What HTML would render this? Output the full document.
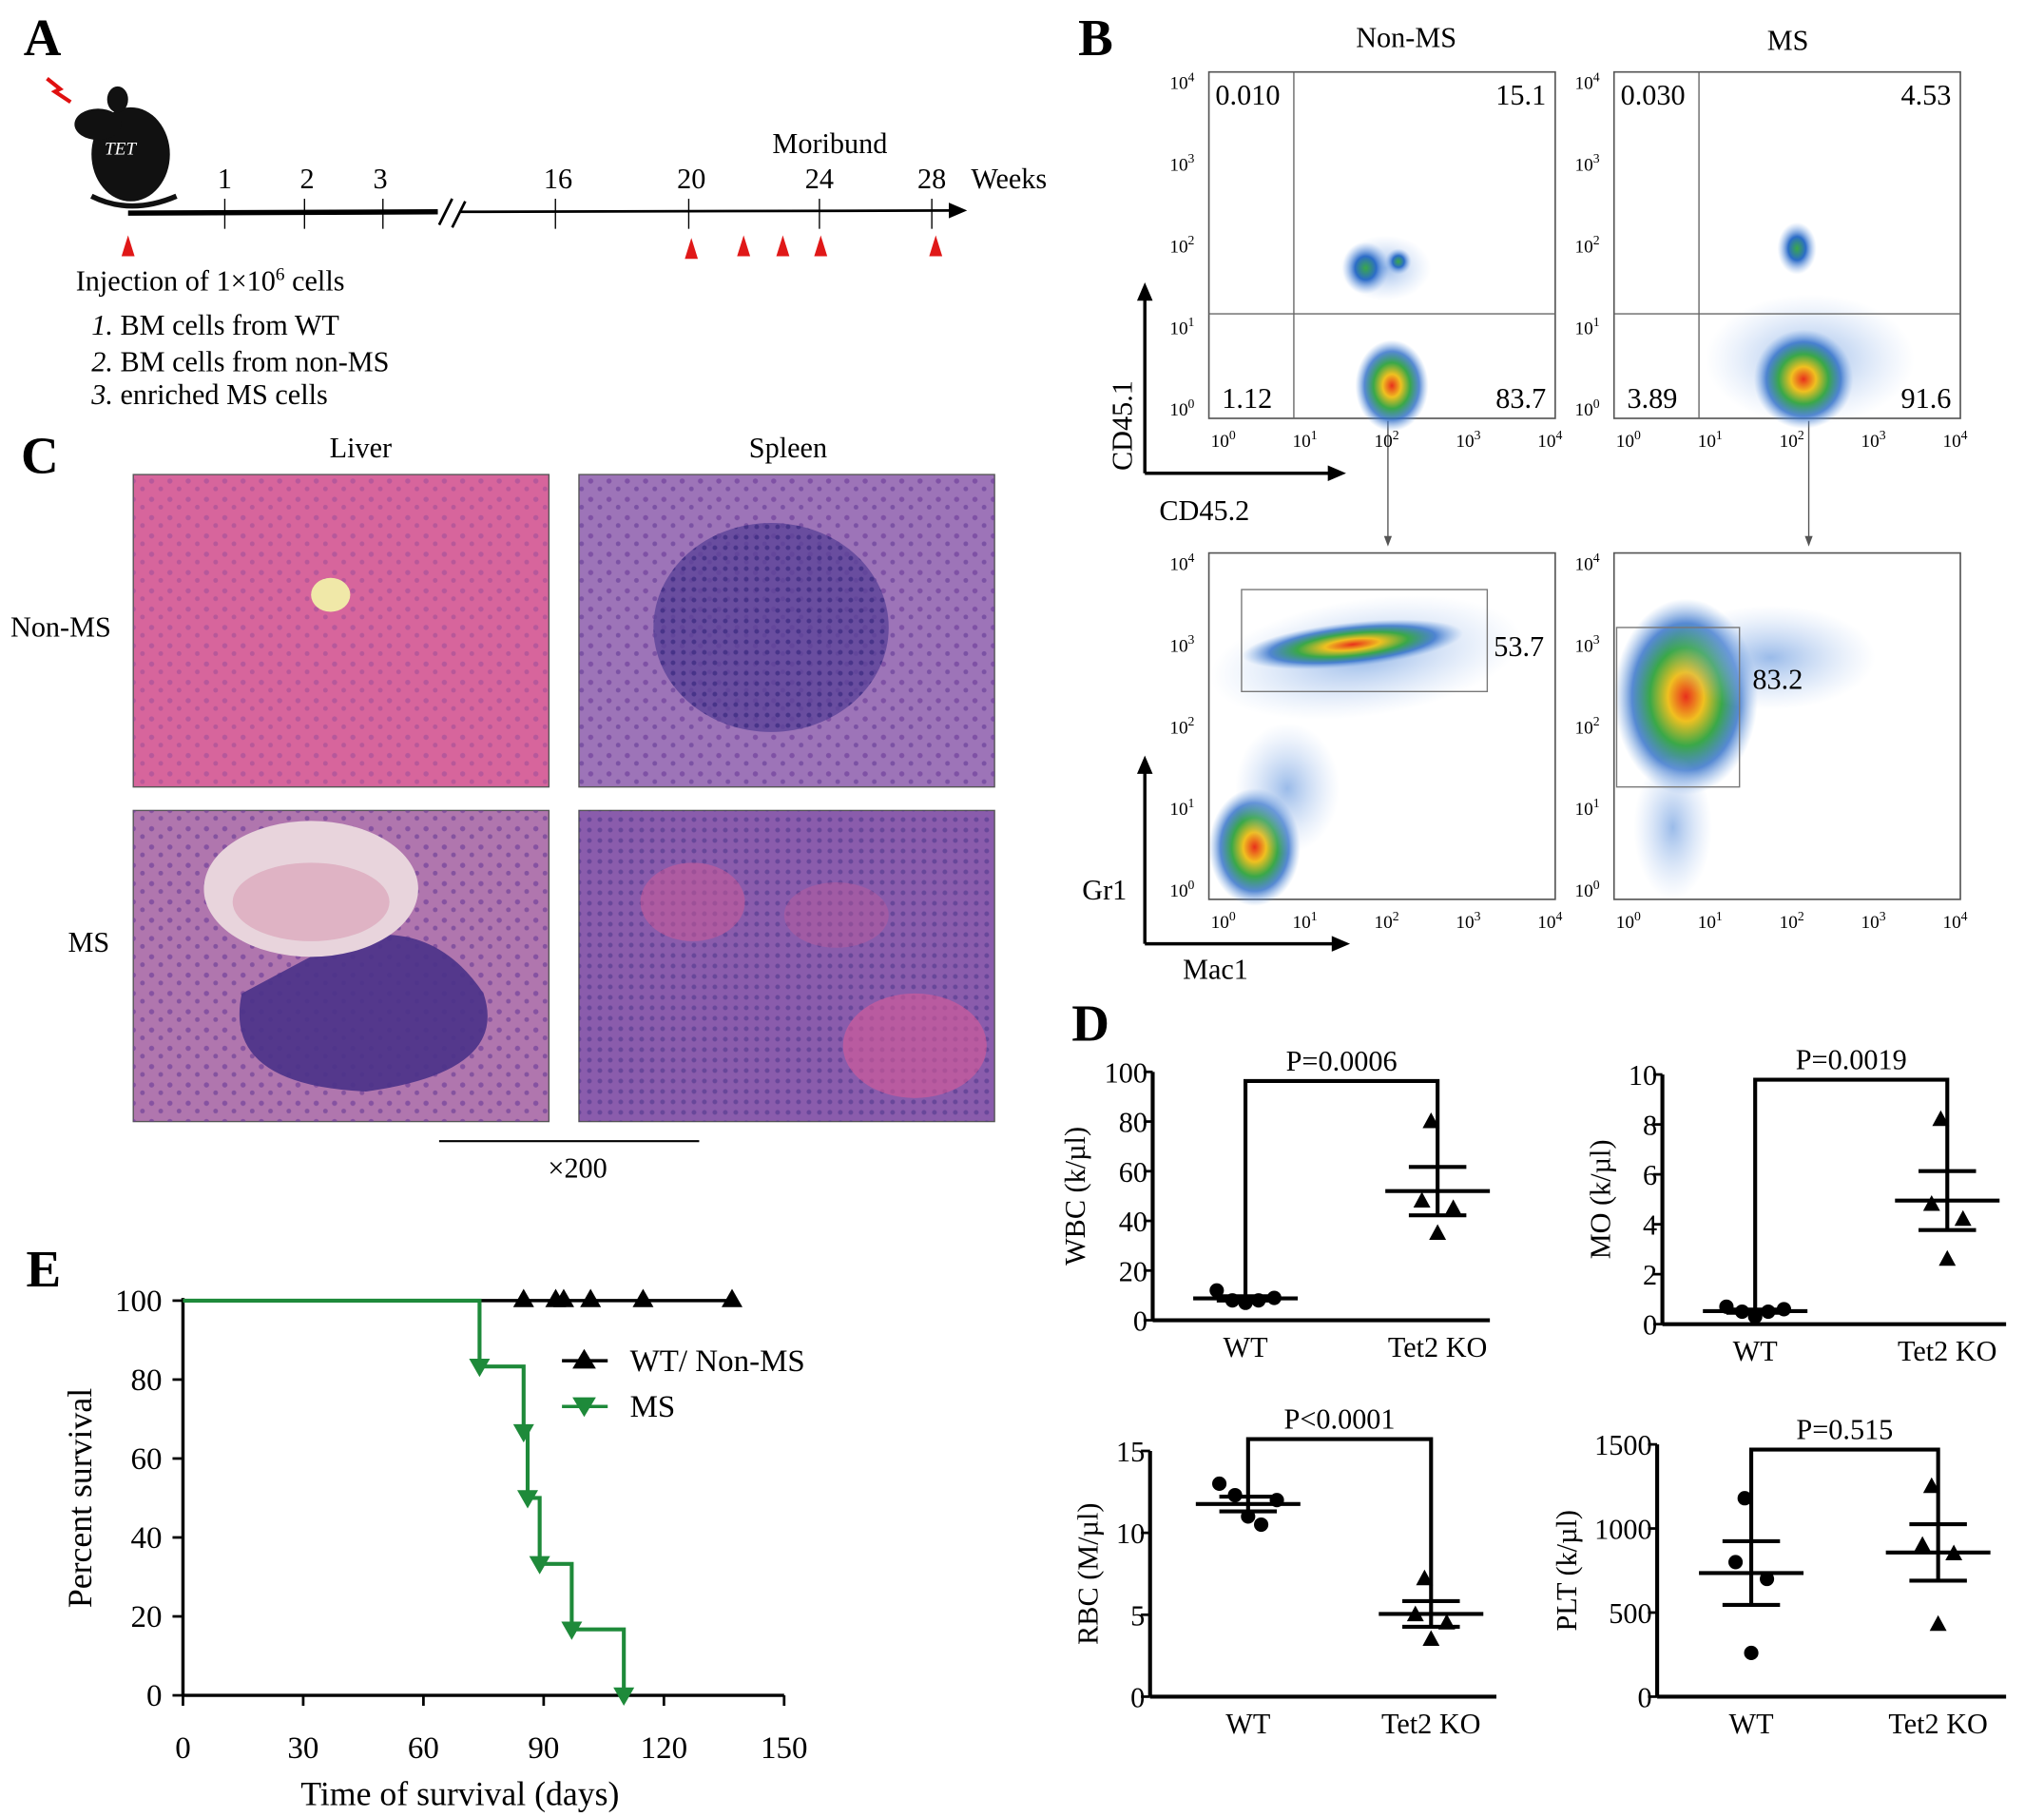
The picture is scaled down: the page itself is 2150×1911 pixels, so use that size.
<!DOCTYPE html>
<html><head><meta charset="utf-8">
<style>
html,body{margin:0;padding:0;background:#fff;}
svg{display:block;font-family:"Liberation Serif",serif;}
</style></head>
<body>
<svg id="fig" width="2150" height="1911" viewBox="0 0 1564 1390" xmlns="http://www.w3.org/2000/svg">
<defs>
<radialGradient id="heat" cx="50%" cy="50%" r="50%">
<stop offset="0" stop-color="#e8301c"/><stop offset="0.25" stop-color="#f0c020"/><stop offset="0.5" stop-color="#3aa848"/><stop offset="0.75" stop-color="#2c6cc8" stop-opacity="0.8"/><stop offset="1" stop-color="#6fa0e0" stop-opacity="0"/>
</radialGradient>
<radialGradient id="cool" cx="50%" cy="50%" r="50%">
<stop offset="0" stop-color="#3aa848"/><stop offset="0.45" stop-color="#2c6cc8"/><stop offset="1" stop-color="#8fb4ea" stop-opacity="0"/>
</radialGradient>
<radialGradient id="sparse" cx="50%" cy="50%" r="50%">
<stop offset="0" stop-color="#6f9ee0" stop-opacity="0.7"/><stop offset="1" stop-color="#a8c4f0" stop-opacity="0"/>
</radialGradient>
<pattern id="cells" width="14" height="14" patternUnits="userSpaceOnUse"><circle cx="4" cy="4" r="2" fill="#6a3a98" opacity="0.6"/><circle cx="11" cy="10" r="1.8" fill="#5a2f90" opacity="0.5"/></pattern>
<pattern id="cellsd" width="8" height="8" patternUnits="userSpaceOnUse"><circle cx="3" cy="3" r="1.8" fill="#3a2a80" opacity="0.7"/></pattern>
</defs>

<g>
<text x="18" y="42" font-size="40" font-weight="bold">A</text>
<g>
<ellipse cx="100" cy="118" rx="30" ry="36" fill="#111"/>
<ellipse cx="75" cy="95" rx="18" ry="12" fill="#111"/>
<ellipse cx="90" cy="76" rx="8" ry="10" fill="#111"/>
<path d="M70 150 Q100 165 135 150" stroke="#111" stroke-width="4" fill="none"/>
<text x="80" y="118" font-size="14" fill="#fff" font-style="italic">TET</text>
<path d="M36 60 L46 68 L42 70 L54 78" stroke="#e01010" stroke-width="3" fill="none"/>
</g>
<line x1="98" y1="163" x2="335" y2="162" stroke="#000" stroke-width="4"/>
<line x1="336" y1="172" x2="346" y2="152" stroke="#000" stroke-width="2"/>
<line x1="346" y1="174" x2="356" y2="154" stroke="#000" stroke-width="2"/>
<line x1="352" y1="162" x2="730" y2="161" stroke="#000" stroke-width="2"/>
<path d="M740 161 L726 155 L726 167 Z" fill="#000"/>
<g font-size="22" text-anchor="middle">
<line x1="172" y1="152" x2="172" y2="175" stroke="#000"/><text x="172" y="144">1</text>
<line x1="233" y1="152" x2="233" y2="175" stroke="#000"/><text x="235" y="144">2</text>
<line x1="293" y1="152" x2="293" y2="175" stroke="#000"/><text x="291" y="144">3</text>
<line x1="425" y1="152" x2="425" y2="175" stroke="#000"/><text x="427" y="144">16</text>
<line x1="527" y1="152" x2="527" y2="175" stroke="#000"/><text x="529" y="144">20</text>
<line x1="627" y1="152" x2="627" y2="175" stroke="#000"/><text x="627" y="144">24</text>
<line x1="713" y1="152" x2="713" y2="175" stroke="#000"/><text x="713" y="144">28</text>
<text x="772" y="144">Weeks</text>
<text x="635" y="117">Moribund</text>
</g>
<g fill="#e01818">
<path d="M98 180 L93 196 L103 196Z"/><path d="M529 182 L524 198 L534 198Z"/><path d="M569 180 L564 196 L574 196Z"/><path d="M599 180 L594 196 L604 196Z"/><path d="M628 180 L623 196 L633 196Z"/><path d="M716 180 L711 196 L721 196Z"/>
</g>
<text x="58" y="222" font-size="22">Injection of 1×10<tspan font-size="14" dy="-8">6</tspan><tspan dy="8"> cells</tspan></text>
<text x="70" y="256" font-size="22"><tspan font-style="italic">1.</tspan> BM cells from WT</text>
<text x="70" y="284" font-size="22"><tspan font-style="italic">2.</tspan> BM cells from non-MS</text>
<text x="70" y="309" font-size="22"><tspan font-style="italic">3.</tspan> enriched MS cells</text>
</g>

<g>
<text x="16" y="362" font-size="40" font-weight="bold">C</text>
<text x="276" y="350" font-size="22" text-anchor="middle">Liver</text>
<text x="603" y="350" font-size="22" text-anchor="middle">Spleen</text>
<text x="8" y="487" font-size="22">Non-MS</text>
<text x="52" y="728" font-size="22">MS</text>
<g>
<rect x="102" y="363" width="318" height="239" fill="#d7659c" stroke="#555"/>
<rect x="102" y="363" width="318" height="239" fill="url(#cells)" opacity="0.5"/>
<ellipse cx="253" cy="455" rx="15" ry="13" fill="#f0e8a8"/>
</g>
<g>
<rect x="443" y="363" width="318" height="239" fill="#9d74b8" stroke="#555"/>
<rect x="443" y="363" width="318" height="239" fill="url(#cells)"/>
<ellipse cx="590" cy="480" rx="90" ry="80" fill="#5d4498" opacity="0.8"/>
<ellipse cx="590" cy="480" rx="90" ry="80" fill="url(#cellsd)"/>
</g>
<g>
<rect x="102" y="620" width="318" height="238" fill="#b076ae" stroke="#555"/>
<rect x="102" y="620" width="318" height="238" fill="url(#cells)"/>
<path d="M185 760 Q170 830 280 835 Q390 820 370 760 Q330 700 260 720 Z" fill="#4a3288" opacity="0.9"/>
<ellipse cx="238" cy="680" rx="82" ry="52" fill="#e8d4dc"/>
<ellipse cx="238" cy="690" rx="60" ry="30" fill="#d89cb4" opacity="0.6"/>
</g>
<g>
<rect x="443" y="620" width="318" height="238" fill="#8a5cac" stroke="#555"/>
<rect x="443" y="620" width="318" height="238" fill="url(#cellsd)" opacity="0.6"/>
<ellipse cx="700" cy="800" rx="55" ry="40" fill="#d85a98" opacity="0.6"/>
<ellipse cx="530" cy="690" rx="40" ry="30" fill="#d25a96" opacity="0.5"/>
<ellipse cx="640" cy="700" rx="40" ry="25" fill="#c45a98" opacity="0.4"/>
</g>
<line x1="336" y1="873" x2="535" y2="873" stroke="#000" stroke-width="1.5"/>
<text x="442" y="901" font-size="22" text-anchor="middle">×200</text>
</g>

<g id="panelB">
<text x="825" y="42" font-size="40" font-weight="bold">B</text>
<text x="1076" y="36" font-size="22" text-anchor="middle">Non-MS</text>
<text x="1368" y="38" font-size="22" text-anchor="middle">MS</text>
<line x1="876" y1="362" x2="876" y2="222" stroke="#000" stroke-width="2.5"/><path d="M876 216 L870 230 L882 230Z"/>
<line x1="876" y1="362" x2="1022" y2="362" stroke="#000" stroke-width="2.5"/><path d="M1030 362 L1016 356 L1016 368Z"/>
<text transform="translate(866,360) rotate(-90)" font-size="22">CD45.1</text>
<text x="887" y="398" font-size="22">CD45.2</text>
<line x1="876" y1="722" x2="876" y2="585" stroke="#000" stroke-width="2.5"/><path d="M876 578 L870 592 L882 592Z"/>
<line x1="876" y1="722" x2="1025" y2="722" stroke="#000" stroke-width="2.5"/><path d="M1033 722 L1019 716 L1019 728Z"/>
<text x="828" y="688" font-size="22">Gr1</text>
<text x="905" y="749" font-size="22">Mac1</text>
<line x1="1062" y1="322" x2="1062" y2="414" stroke="#555"/><path d="M1062 418 L1059 410 L1065 410Z" fill="#555"/>
<line x1="1384" y1="322" x2="1384" y2="414" stroke="#555"/><path d="M1384 418 L1381 410 L1387 410Z" fill="#555"/>
</g>

<g id="panelD">
<text x="820" y="796" font-size="40" font-weight="bold">D</text>
</g>

<g id="panelE">
<text x="20" y="984" font-size="40" font-weight="bold">E</text>
</g>

<script>
const flowQuadNonMS = ["0.010","15.1","1.12","83.7"];
const flowQuadMS = ["0.030","4.53","3.89","91.6"];
const flowGateNonMS = "53.7";
const flowGateMS = "83.2";
const NS = "http://www.w3.org/2000/svg";
function mk(parent, tag, attrs){const e=document.createElementNS(NS,tag);for(const k in attrs)e.setAttribute(k,attrs[k]);parent.appendChild(e);return e;}
function txt(parent,x,y,s,size,anchor){const t=mk(parent,'text',{x:x,y:y,'font-size':size,'text-anchor':anchor||'start'});t.textContent=s;return t;}
const B=document.getElementById('panelB');
function flowPlot(x0,y0,name,blobs){
  const g=mk(B,'g',{});
  
  
  mk(g,'rect',{x:x0,y:y0,width:265,height:265,fill:'#fff',stroke:'#555','stroke-width':1.2});
  blobs.forEach(b=>mk(g,'ellipse',{cx:x0+b[0],cy:y0+b[1],rx:b[2],ry:b[3],fill:'url(#'+b[4]+')',transform:b[5]?('rotate('+b[5]+' '+(x0+b[0])+' '+(y0+b[1])+')'):''}));
  for(let i=0;i<5;i++){
    const tx=x0+14+i*62.5, ty=y0+263-i*62.5;
    const a=txt(g,tx-3,y0+287,'10',14,'middle'); const s=mk(a,'tspan',{dy:-6,'font-size':10});s.textContent=i;
    const b=txt(g,x0-30,ty,'10',14,'start'); const s2=mk(b,'tspan',{dy:-6,'font-size':10});s2.textContent=i;
  }
  return g;
}
let g=flowPlot(925,55,'flow-cd45-non-ms',[[135,150,35,25,'sparse'],[140,240,28,35,'heat'],[120,150,18,20,'cool'],[145,145,10,10,'cool']]);
mk(g,'line',{x1:990,y1:55,x2:990,y2:320,stroke:'#666'});mk(g,'line',{x1:925,y1:240,x2:1190,y2:240,stroke:'#666'});
txt(g,930,80,flowQuadNonMS[0],22);txt(g,1183,80,flowQuadNonMS[1],22,'end');txt(g,935,312,flowQuadNonMS[2],22);txt(g,1183,312,flowQuadNonMS[3],22,'end');
g=flowPlot(1235,55,'flow-cd45-ms',[[150,220,80,50,'sparse'],[145,235,38,38,'heat'],[140,135,15,20,'cool']]);
mk(g,'line',{x1:1300,y1:55,x2:1300,y2:320,stroke:'#666'});mk(g,'line',{x1:1235,y1:240,x2:1500,y2:240,stroke:'#666'});
txt(g,1240,80,flowQuadMS[0],22);txt(g,1493,80,flowQuadMS[1],22,'end');txt(g,1245,312,flowQuadMS[2],22);txt(g,1493,312,flowQuadMS[3],22,'end');
g=flowPlot(925,423,'flow-gr1-mac1-non-ms',[[120,80,120,45,'sparse',-8],[110,70,85,17,'heat',-6],[35,225,35,45,'heat'],[60,180,40,50,'sparse']]);
mk(g,'rect',{x:950,y:451,width:188,height:78,fill:'none',stroke:'#777'});
txt(g,1143,502,flowGateNonMS,22);
g=flowPlot(1235,423,'flow-gr1-mac1-ms',[[55,110,55,75,'heat'],[45,210,30,55,'sparse'],[120,80,80,40,'sparse']]);
mk(g,'rect',{x:1237,y:480,width:94,height:122,fill:'none',stroke:'#777'});
txt(g,1341,527,flowGateMS,22);

const wbcWT=[12,8,7,8,9];
const wbcKO=[80,48,45,35];
const moWT=[0.7,0.5,0.3,0.5,0.6];
const moKO=[8.2,4.8,4.2,2.6];
const rbcWT=[13,12.3,11,10.5,12];
const rbcKO=[7.2,5,4.5,3.5];
const pltWT=[1180,800,700,260];
const pltKO=[1250,900,850,430];
const dCategories=["WT","Tet2 KO"];
const D=document.getElementById('panelD');
function mean(a){return a.reduce((s,v)=>s+v,0)/a.length;}
function sem(a){const m=mean(a);return Math.sqrt(a.reduce((s,v)=>s+(v-m)*(v-m),0)/(a.length-1))/Math.sqrt(a.length);}
function dotPlot(cfg){
  const gg=mk(D,'g',{});
  
  
  const ys=v=>cfg.y0-(v/cfg.max)*(cfg.y0-cfg.y1);
  mk(gg,'line',{x1:cfg.ax,y1:cfg.y1,x2:cfg.ax,y2:cfg.y0,stroke:'#000','stroke-width':3});
  mk(gg,'line',{x1:cfg.ax,y1:cfg.y0,x2:cfg.ax2,y2:cfg.y0,stroke:'#000','stroke-width':3});
  cfg.ticks.forEach(t=>{mk(gg,'line',{x1:cfg.ax-7,y1:ys(t),x2:cfg.ax,y2:ys(t),stroke:'#000','stroke-width':2});txt(gg,cfg.ax-4,ys(t)+8,String(t),22,'end');});
  const yl=mk(gg,'text',{transform:'translate('+(cfg.ax-cfg.ylo)+','+((cfg.y0+cfg.y1)/2)+') rotate(-90)','font-size':22,'text-anchor':'middle'});yl.textContent=cfg.label;
  const xs=[cfg.cx1,cfg.cx2];
  [cfg.wt,cfg.ko].forEach((arr,gi)=>{
    const cx=xs[gi];
    const offs=arr.length===5?[-22,-10,0,10,22]:[-5,-12,12,0];
    arr.forEach((v,i)=>{
      const px=cx+offs[i],py=ys(v);
      let m;
      if(gi===0) m=mk(gg,'circle',{cx:px,cy:py,r:5.5,fill:'#000'});
      else m=mk(gg,'path',{d:'M'+px+' '+(py-7)+' L'+(px-6.5)+' '+(py+5)+' L'+(px+6.5)+' '+(py+5)+'Z',fill:'#000'});
      
      
    });
    const m=mean(arr),se=sem(arr);
    mk(gg,'line',{x1:cx-40,y1:ys(m),x2:cx+40,y2:ys(m),stroke:'#000','stroke-width':3});
    mk(gg,'line',{x1:cx-22,y1:ys(m+se),x2:cx+22,y2:ys(m+se),stroke:'#000','stroke-width':3});
    mk(gg,'line',{x1:cx-22,y1:ys(m-se),x2:cx+22,y2:ys(m-se),stroke:'#000','stroke-width':3});
    mk(gg,'line',{x1:cx,y1:ys(m+se),x2:cx,y2:ys(m-se),stroke:'#000','stroke-width':3});
    txt(gg,cx,cfg.y0+28,dCategories[gi],22,'middle');
  });
  const top=cfg.by;
  mk(gg,'path',{d:'M'+xs[0]+' '+ys(mean(cfg.wt)+sem(cfg.wt))+' L'+xs[0]+' '+top+' L'+xs[1]+' '+top+' L'+xs[1]+' '+ys(mean(cfg.ko)+sem(cfg.ko)),fill:'none',stroke:'#000','stroke-width':3});
  txt(gg,(xs[0]+xs[1])/2,top-8,cfg.p,22,'middle');
}
dotPlot({name:'wbc-plot',wt:wbcWT,ko:wbcKO,max:100,ticks:[0,20,40,60,80,100],ax:882,ax2:1140,y0:1010,y1:820,cx1:953,cx2:1100,label:'WBC (k/µl)',ylo:52,by:827,p:'P=0.0006'});
dotPlot({name:'mo-plot',wt:moWT,ko:moKO,max:10,ticks:[0,2,4,6,8,10],ax:1272,ax2:1535,y0:1013,y1:822,cx1:1343,cx2:1490,label:'MO (k/µl)',ylo:40,by:826,p:'P=0.0019'});
dotPlot({name:'rbc-plot',wt:rbcWT,ko:rbcKO,max:15,ticks:[0,5,10,15],ax:880,ax2:1145,y0:1298,y1:1110,cx1:955,cx2:1095,label:'RBC (M/µl)',ylo:40,by:1101,p:'P<0.0001'});
dotPlot({name:'plt-plot',wt:pltWT,ko:pltKO,max:1500,ticks:[0,500,1000,1500],ax:1268,ax2:1535,y0:1298,y1:1105,cx1:1340,cx2:1483,label:'PLT (k/µl)',ylo:62,by:1109,p:'P=0.515'});

const msDays=[74,85,86,89,97,110];
const msSurvival=[83.3,66.7,50,33.3,16.7,0];
const wtCensorDays=[85,93,95,101.7,114.8,137];
const eTicksX=[0,30,60,90,120,150];
const eTicksY=[0,20,40,60,80,100];
const E=document.getElementById('panelE');
const ex=d=>140+d/150*460, ey=v=>1297-v/100*302;
mk(E,'line',{x1:140,y1:ey(100)-2,x2:140,y2:1297,stroke:'#000','stroke-width':2.5});
mk(E,'line',{x1:140,y1:1297,x2:600,y2:1297,stroke:'#000','stroke-width':2.5});
eTicksX.forEach(t=>{mk(E,'line',{x1:ex(t),y1:1297,x2:ex(t),y2:1305,stroke:'#000','stroke-width':2});txt(E,ex(t),1345,String(t),24,'middle');});
eTicksY.forEach(t=>{mk(E,'line',{x1:132,y1:ey(t),x2:140,y2:ey(t),stroke:'#000','stroke-width':2});txt(E,124,ey(t)+8,String(t),24,'end');});
txt(E,352,1381,'Time of survival (days)',26,'middle');
const ylab=mk(E,'text',{transform:'translate(70,1146) rotate(-90)','font-size':26,'text-anchor':'middle'});ylab.textContent='Percent survival';
const wl=mk(E,'line',{x1:ex(0),y1:ey(100),x2:ex(wtCensorDays[wtCensorDays.length-1]),y2:ey(100),stroke:'#000','stroke-width':2.5});


wtCensorDays.forEach(d=>{const m=mk(E,'path',{d:'M'+ex(d)+' '+(ey(100)-9)+' l-8 14 l16 0Z',fill:'#000'});

});
let pd='M'+ex(0)+' '+ey(100);let prev=100;
msDays.forEach((d,i)=>{pd+=' L'+ex(d)+' '+ey(prev)+' L'+ex(d)+' '+ey(msSurvival[i]);prev=msSurvival[i];});
const gl=mk(E,'path',{d:pd,fill:'none',stroke:'#1e8a3a','stroke-width':3});


msDays.forEach((d,i)=>{const x=ex(d),y=ey(msSurvival[i]);const m=mk(E,'path',{d:'M'+x+' '+(y+8)+' l-8 -14 l16 0Z',fill:'#1e8a3a'});

});
const lg=mk(E,'g',{});


mk(lg,'line',{x1:430,y1:1041,x2:465,y2:1041,stroke:'#000','stroke-width':2.5});
mk(lg,'path',{d:'M447 1032 l-9 15 l18 0Z',fill:'#000'});
txt(lg,482,1049,'WT/ Non-MS',24);
mk(lg,'line',{x1:430,y1:1076,x2:465,y2:1076,stroke:'#1e8a3a','stroke-width':2.5});
mk(lg,'path',{d:'M447 1084 l-9 -15 l18 0Z',fill:'#1e8a3a'});
txt(lg,482,1084,'MS',24);
</script>
</svg>
</body></html>
